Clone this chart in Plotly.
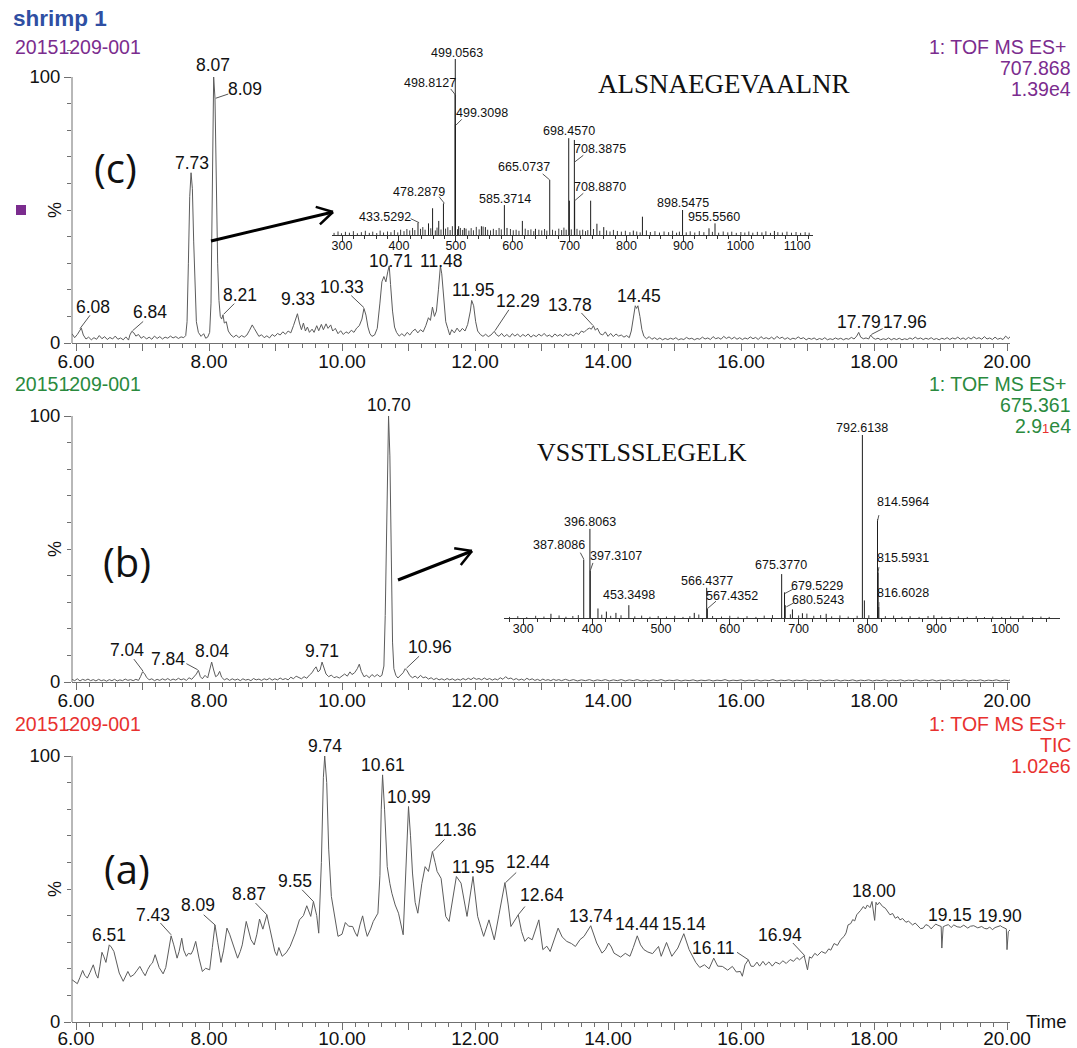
import plotly.graph_objects as go

W, H = 1077, 1048

# ======================= DATA =======================
sample_name = "shrimp 1"
sample_id = "20151209-001"
x_tick_values = list(range(6, 21))
x_tick_labels = [("%.2f" % v) if v % 2 == 0 else "" for v in x_tick_values]
ms_tick_values = [300, 400, 500, 600, 700, 800, 900, 1000, 1100]

c_header = ["1: TOF MS ES+", "707.868", "1.39e4"]
b_header = ["1: TOF MS ES+", "675.361", "2.9<span style='color:#e8312f;font-size:13px'>1</span>e4"]
a_header = ["1: TOF MS ES+", "TIC", "1.02e6"]
peptide_c = "ALSNAEGEVAALNR"
peptide_b = "VSSTLSSLEGELK"

# (c) extracted ion chromatogram 707.868  (time, %)
c_points = [
    (5.94, 3.5), (5.98, 2.0), (6.02, 3.2), (6.05, 4.5), (6.08, 5.6), (6.11, 3.0), (6.15, 1.5), (6.19, 2.2),
    (6.23, 1.2), (6.27, 2.0), (6.31, 1.4), (6.35, 2.8), (6.39, 1.6), (6.43, 2.4), (6.47, 1.3), (6.51, 2.1),
    (6.55, 1.5), (6.59, 2.6), (6.63, 1.4), (6.67, 1.9), (6.71, 1.2), (6.75, 2.3), (6.79, 1.1), (6.81, 3.0),
    (6.84, 4.4), (6.87, 3.8), (6.90, 2.6), (6.94, 3.2), (6.98, 1.8), (7.02, 2.5), (7.06, 1.5), (7.10, 2.2),
    (7.14, 1.4), (7.18, 2.6), (7.22, 1.7), (7.26, 2.4), (7.30, 1.5), (7.34, 2.2), (7.38, 1.8), (7.42, 2.6),
    (7.46, 1.9), (7.50, 2.4), (7.54, 1.7), (7.58, 2.3), (7.62, 2.0), (7.65, 2.8), (7.67, 8.0), (7.69, 30.0),
    (7.71, 55.0), (7.73, 64.0), (7.75, 58.0), (7.77, 38.0), (7.79, 18.0), (7.81, 8.0), (7.84, 4.0), (7.88, 2.5),
    (7.92, 3.5), (7.95, 1.8), (7.98, 2.2), (8.01, 4.0), (8.03, 15.0), (8.05, 70.0), (8.07, 100.0), (8.09, 92.0),
    (8.11, 60.0), (8.13, 30.0), (8.15, 16.0), (8.17, 10.0), (8.19, 9.0), (8.21, 10.6), (8.23, 7.5), (8.26, 8.0),
    (8.29, 4.5), (8.33, 3.0), (8.37, 2.2), (8.41, 3.0), (8.45, 2.0), (8.49, 2.8), (8.53, 2.2), (8.57, 3.0),
    (8.61, 4.8), (8.65, 6.8), (8.68, 5.5), (8.71, 4.0), (8.75, 2.5), (8.79, 3.1), (8.83, 2.0), (8.87, 2.7),
    (8.91, 1.9), (8.95, 3.2), (8.99, 2.5), (9.03, 3.6), (9.07, 3.0), (9.11, 4.2), (9.15, 3.3), (9.19, 4.5),
    (9.23, 3.8), (9.27, 6.5), (9.30, 9.0), (9.33, 11.0), (9.36, 7.5), (9.39, 5.0), (9.42, 7.5), (9.45, 4.5),
    (9.48, 6.0), (9.51, 4.0), (9.55, 5.2), (9.58, 4.0), (9.62, 6.5), (9.65, 4.6), (9.69, 7.0), (9.72, 5.0),
    (9.76, 7.2), (9.79, 5.5), (9.83, 6.8), (9.86, 4.5), (9.90, 5.5), (9.94, 3.5), (9.98, 4.6), (10.02, 3.2),
    (10.06, 4.2), (10.10, 3.6), (10.14, 4.8), (10.18, 4.0), (10.22, 5.6), (10.26, 6.5), (10.30, 9.0), (10.33, 13.0),
    (10.36, 10.5), (10.39, 6.0), (10.42, 3.5), (10.45, 2.5), (10.49, 3.0), (10.53, 5.5), (10.57, 15.0), (10.60, 23.0),
    (10.63, 25.0), (10.66, 23.0), (10.69, 27.0), (10.71, 29.0), (10.73, 22.0), (10.76, 12.0), (10.79, 6.0), (10.82, 4.0),
    (10.86, 2.6), (10.90, 3.5), (10.94, 2.6), (10.98, 4.0), (11.02, 3.0), (11.06, 4.4), (11.10, 5.2), (11.14, 3.8),
    (11.18, 5.0), (11.22, 4.2), (11.26, 6.5), (11.30, 9.5), (11.33, 8.5), (11.36, 13.5), (11.39, 10.0), (11.42, 12.0),
    (11.45, 20.0), (11.48, 29.0), (11.50, 26.0), (11.53, 15.0), (11.56, 8.0), (11.59, 5.5), (11.62, 3.0), (11.65, 5.0),
    (11.69, 3.8), (11.73, 5.6), (11.77, 4.2), (11.81, 5.5), (11.85, 4.5), (11.89, 7.0), (11.93, 12.0), (11.95, 16.0),
    (11.98, 14.0), (12.01, 8.0), (12.04, 4.5), (12.08, 3.2), (12.12, 2.5), (12.16, 3.3), (12.20, 2.4), (12.24, 3.0),
    (12.27, 3.8), (12.29, 4.4), (12.32, 3.2), (12.36, 2.5), (12.40, 3.6), (12.44, 2.4), (12.48, 3.2), (12.52, 2.2),
    (12.56, 3.5), (12.60, 2.6), (12.64, 3.4), (12.68, 2.3), (12.72, 3.2), (12.76, 2.5), (12.80, 3.4), (12.84, 2.2),
    (12.88, 3.0), (12.92, 2.4), (12.96, 3.3), (13.00, 2.6), (13.04, 3.6), (13.08, 2.5), (13.12, 3.0), (13.16, 2.2),
    (13.20, 3.4), (13.24, 2.6), (13.28, 3.2), (13.32, 2.4), (13.36, 3.5), (13.40, 2.8), (13.44, 3.3), (13.48, 2.6),
    (13.52, 3.8), (13.56, 3.2), (13.60, 4.5), (13.64, 4.0), (13.68, 5.0), (13.72, 5.6), (13.75, 5.2), (13.78, 6.5),
    (13.81, 4.8), (13.84, 5.6), (13.88, 3.5), (13.92, 3.0), (13.96, 4.2), (14.00, 2.5), (14.04, 3.6), (14.08, 2.4),
    (14.12, 3.4), (14.16, 2.6), (14.20, 3.0), (14.24, 2.2), (14.28, 2.8), (14.32, 2.0), (14.35, 4.5), (14.38, 9.0),
    (14.41, 14.0), (14.43, 13.0), (14.45, 14.0), (14.48, 10.0), (14.51, 5.0), (14.54, 2.5), (14.58, 1.6), (14.62, 2.4),
    (14.66, 1.4), (14.70, 2.0), (14.74, 1.3), (14.78, 1.9), (14.82, 1.2), (14.86, 1.7), (14.90, 1.3), (14.94, 1.8),
    (14.98, 1.4), (15.02, 2.0), (15.06, 1.2), (15.10, 1.6), (15.14, 1.3), (15.18, 2.1), (15.22, 1.5), (15.26, 1.8),
    (15.30, 1.2), (15.34, 1.7), (15.38, 1.4), (15.42, 2.2), (15.46, 1.5), (15.50, 1.9), (15.54, 1.3), (15.58, 2.4),
    (15.62, 1.6), (15.66, 2.0), (15.70, 1.4), (15.74, 2.5), (15.78, 1.7), (15.82, 2.3), (15.86, 1.5), (15.90, 2.2),
    (15.94, 1.4), (15.98, 2.0), (16.02, 1.3), (16.06, 1.9), (16.10, 1.5), (16.14, 2.3), (16.18, 1.6), (16.22, 2.1),
    (16.26, 1.3), (16.30, 2.4), (16.34, 1.6), (16.38, 2.0), (16.42, 1.5), (16.46, 2.2), (16.50, 1.4), (16.54, 2.5),
    (16.58, 1.7), (16.62, 2.2), (16.66, 1.4), (16.70, 2.0), (16.74, 1.3), (16.78, 1.8), (16.82, 1.5), (16.86, 2.3),
    (16.90, 1.6), (16.94, 2.0), (16.98, 1.2), (17.02, 1.8), (17.06, 1.4), (17.10, 1.9), (17.14, 1.2), (17.18, 1.7),
    (17.22, 1.3), (17.26, 2.0), (17.30, 1.2), (17.34, 1.6), (17.38, 1.3), (17.42, 1.9), (17.46, 1.4), (17.50, 1.8),
    (17.54, 1.2), (17.58, 1.7), (17.62, 1.4), (17.66, 2.1), (17.70, 1.5), (17.74, 2.6), (17.77, 4.0), (17.80, 2.2),
    (17.84, 1.6), (17.88, 1.9), (17.92, 1.5), (17.95, 3.0), (17.98, 2.0), (18.02, 1.4), (18.06, 1.8), (18.10, 1.2),
    (18.14, 1.6), (18.18, 1.3), (18.22, 1.9), (18.26, 1.2), (18.30, 1.7), (18.34, 1.3), (18.38, 1.8), (18.42, 1.2),
    (18.46, 1.6), (18.50, 1.3), (18.54, 1.9), (18.58, 1.4), (18.62, 2.2), (18.66, 1.5), (18.70, 1.9), (18.74, 1.3),
    (18.78, 1.8), (18.82, 1.4), (18.86, 2.0), (18.90, 1.3), (18.94, 1.7), (18.98, 1.2), (19.02, 1.8), (19.06, 1.4),
    (19.10, 2.0), (19.14, 1.3), (19.18, 1.9), (19.22, 1.5), (19.26, 2.2), (19.30, 1.4), (19.34, 1.9), (19.38, 1.3),
    (19.42, 2.1), (19.46, 1.5), (19.50, 2.3), (19.54, 1.6), (19.58, 2.0), (19.62, 1.4), (19.66, 2.4), (19.70, 1.5),
    (19.74, 1.9), (19.78, 1.3), (19.82, 2.2), (19.86, 1.4), (19.90, 1.8), (19.94, 1.3), (19.98, 2.6), (20.02, 1.6),
    (20.05, 2.5),
]

# (b) extracted ion chromatogram 675.361
b_points = [
    (5.94, 1.0), (5.98, 0.5), (6.02, 1.2), (6.06, 0.4), (6.10, 1.0), (6.14, 0.6), (6.18, 1.1), (6.22, 0.5),
    (6.26, 0.9), (6.30, 0.4), (6.34, 1.0), (6.38, 0.5), (6.42, 0.8), (6.46, 0.3), (6.50, 0.9), (6.54, 0.5),
    (6.58, 1.0), (6.62, 0.4), (6.66, 0.8), (6.70, 0.5), (6.74, 1.1), (6.78, 0.6), (6.82, 0.9), (6.86, 0.5),
    (6.90, 1.0), (6.94, 0.6), (6.97, 2.0), (7.00, 3.8), (7.03, 3.2), (7.06, 1.8), (7.10, 0.8), (7.14, 1.2),
    (7.18, 0.5), (7.22, 1.0), (7.26, 0.6), (7.30, 1.2), (7.34, 0.7), (7.38, 1.3), (7.42, 0.6), (7.46, 1.1),
    (7.50, 0.7), (7.54, 1.4), (7.58, 0.8), (7.62, 1.2), (7.66, 0.6), (7.70, 1.6), (7.74, 1.0), (7.78, 2.2),
    (7.81, 3.0), (7.84, 4.4), (7.87, 2.0), (7.90, 1.2), (7.94, 2.5), (7.98, 1.5), (8.01, 5.0), (8.04, 7.5),
    (8.07, 4.5), (8.10, 2.0), (8.13, 2.5), (8.16, 4.0), (8.19, 1.8), (8.23, 0.8), (8.27, 1.3), (8.31, 0.6),
    (8.35, 1.2), (8.39, 0.7), (8.43, 1.1), (8.47, 0.5), (8.51, 1.2), (8.55, 0.7), (8.59, 1.0), (8.63, 0.5),
    (8.67, 1.3), (8.71, 0.8), (8.75, 1.1), (8.79, 0.6), (8.83, 1.2), (8.87, 0.8), (8.91, 1.4), (8.95, 0.7),
    (8.99, 1.2), (9.03, 0.8), (9.07, 1.5), (9.11, 0.9), (9.15, 1.3), (9.19, 0.8), (9.23, 1.8), (9.27, 1.2),
    (9.31, 2.2), (9.35, 1.6), (9.39, 1.2), (9.43, 2.0), (9.47, 1.4), (9.51, 2.6), (9.55, 3.5), (9.58, 4.8),
    (9.61, 5.7), (9.64, 3.8), (9.67, 4.5), (9.70, 7.5), (9.73, 5.5), (9.76, 3.0), (9.80, 2.0), (9.84, 2.6),
    (9.88, 1.6), (9.92, 2.0), (9.96, 1.5), (10.00, 2.2), (10.04, 3.0), (10.08, 2.2), (10.12, 3.8), (10.15, 2.8),
    (10.19, 3.5), (10.23, 5.0), (10.26, 6.7), (10.29, 4.0), (10.33, 2.0), (10.37, 2.5), (10.41, 1.6), (10.45, 2.8),
    (10.49, 2.0), (10.53, 2.8), (10.57, 2.0), (10.60, 2.5), (10.63, 6.0), (10.65, 25.0), (10.67, 60.0), (10.69, 92.0),
    (10.70, 100.0), (10.72, 85.0), (10.74, 45.0), (10.76, 15.0), (10.78, 5.0), (10.81, 2.5), (10.84, 1.5), (10.88, 2.6),
    (10.92, 3.5), (10.95, 5.0), (10.98, 4.2), (11.02, 2.4), (11.06, 1.6), (11.10, 2.2), (11.14, 1.4), (11.18, 2.5),
    (11.22, 1.6), (11.26, 1.9), (11.30, 1.1), (11.34, 1.6), (11.38, 0.9), (11.42, 1.4), (11.46, 0.8), (11.50, 1.2),
    (11.54, 0.7), (11.58, 1.3), (11.62, 0.8), (11.66, 1.2), (11.70, 0.6), (11.74, 1.1), (11.78, 0.7), (11.82, 1.3),
    (11.86, 0.8), (11.90, 1.4), (11.94, 0.9), (11.98, 1.6), (12.02, 1.0), (12.06, 1.3), (12.10, 0.8), (12.14, 1.5),
    (12.18, 0.9), (12.22, 1.3), (12.26, 0.7), (12.30, 1.2), (12.34, 0.8), (12.38, 1.6), (12.42, 1.0), (12.46, 2.0),
    (12.50, 1.2), (12.54, 1.5), (12.58, 0.8), (12.62, 1.3), (12.66, 0.7), (12.70, 1.1), (12.74, 0.6), (12.78, 1.4),
    (12.82, 0.8), (12.86, 1.2), (12.90, 0.6), (12.94, 1.0), (12.98, 0.5), (13.02, 1.1), (13.06, 0.6), (13.10, 0.9),
    (13.14, 0.5), (13.18, 1.0), (13.22, 0.6), (13.26, 0.9), (13.30, 0.5), (13.36, 1.0), (13.42, 0.5), (13.48, 0.9),
    (13.54, 0.4), (13.60, 0.8), (13.66, 0.5), (13.72, 0.9), (13.78, 0.4), (13.84, 0.8), (13.90, 0.5), (13.96, 0.9),
    (14.02, 0.4), (14.08, 0.8), (14.14, 0.5), (14.20, 0.9), (14.26, 0.4), (14.32, 0.8), (14.38, 0.5), (14.44, 0.9),
    (14.50, 0.4), (14.56, 0.7), (14.62, 0.4), (14.68, 0.8), (14.74, 0.5), (14.80, 0.9), (14.86, 0.4), (14.92, 0.7),
    (14.98, 0.5), (15.04, 0.8), (15.10, 0.4), (15.16, 0.7), (15.22, 0.5), (15.28, 0.8), (15.34, 0.4), (15.40, 0.7),
    (15.46, 0.5), (15.52, 0.8), (15.58, 0.4), (15.64, 0.7), (15.70, 0.5), (15.76, 0.9), (15.82, 0.4), (15.88, 0.7),
    (15.94, 0.5), (16.00, 0.8), (16.06, 0.4), (16.12, 0.7), (16.18, 0.5), (16.24, 0.8), (16.30, 0.4), (16.36, 0.7),
    (16.42, 0.5), (16.48, 0.9), (16.54, 0.4), (16.60, 0.7), (16.66, 0.5), (16.72, 0.8), (16.78, 0.4), (16.84, 0.7),
    (16.90, 0.5), (16.96, 0.8), (17.02, 0.4), (17.08, 0.7), (17.14, 0.5), (17.20, 0.8), (17.26, 0.4), (17.32, 0.7),
    (17.38, 0.5), (17.44, 0.8), (17.50, 0.4), (17.56, 0.7), (17.62, 0.5), (17.68, 0.8), (17.74, 0.4), (17.80, 0.7),
    (17.86, 0.5), (17.92, 0.8), (17.98, 0.4), (18.04, 0.7), (18.10, 0.5), (18.16, 0.8), (18.22, 0.4), (18.28, 0.7),
    (18.34, 0.5), (18.40, 0.8), (18.46, 0.4), (18.52, 0.7), (18.58, 0.5), (18.64, 0.8), (18.70, 0.4), (18.76, 0.7),
    (18.82, 0.5), (18.88, 0.8), (18.94, 0.4), (19.00, 0.7), (19.06, 0.5), (19.12, 0.8), (19.18, 0.4), (19.24, 0.7),
    (19.30, 0.5), (19.36, 0.8), (19.42, 0.4), (19.48, 0.7), (19.54, 0.5), (19.60, 0.8), (19.66, 0.4), (19.72, 0.7),
    (19.78, 0.5), (19.84, 0.8), (19.90, 0.4), (19.96, 0.7), (20.02, 0.5), (20.05, 0.8),
]

# (a) total ion chromatogram
a_points = [
    (5.94, 15.9), (5.98, 15.0), (6.02, 14.4), (6.06, 16.8), (6.10, 19.4), (6.13, 17.6), (6.17, 16.5), (6.21, 18.6),
    (6.26, 21.5), (6.30, 18.0), (6.33, 16.5), (6.36, 21.0), (6.39, 26.2), (6.42, 24.5), (6.45, 22.4), (6.50, 29.0),
    (6.53, 28.2), (6.57, 26.5), (6.61, 22.0), (6.65, 18.4), (6.71, 15.3), (6.75, 17.2), (6.78, 19.0), (6.82, 17.0),
    (6.87, 17.8), (6.92, 19.5), (6.96, 20.9), (7.00, 19.0), (7.04, 17.4), (7.08, 19.8), (7.12, 21.5), (7.15, 22.2),
    (7.19, 25.3), (7.25, 20.5), (7.31, 18.1), (7.35, 20.5), (7.38, 24.7), (7.43, 32.4), (7.47, 29.0), (7.52, 24.0),
    (7.55, 26.5), (7.59, 31.5), (7.62, 27.0), (7.66, 24.7), (7.69, 25.8), (7.73, 25.5), (7.76, 27.0), (7.80, 30.3),
    (7.85, 24.0), (7.90, 19.0), (7.95, 20.2), (8.01, 19.6), (8.05, 28.0), (8.09, 36.5), (8.13, 30.0), (8.18, 22.4),
    (8.22, 27.0), (8.27, 35.3), (8.31, 33.0), (8.34, 30.9), (8.38, 28.0), (8.43, 24.0), (8.47, 26.5), (8.50, 29.0),
    (8.56, 37.8), (8.60, 33.5), (8.63, 31.0), (8.68, 29.0), (8.72, 33.0), (8.76, 38.7), (8.81, 34.9), (8.87, 40.3),
    (8.93, 33.0), (8.99, 26.5), (9.02, 25.0), (9.05, 28.0), (9.10, 24.7), (9.16, 26.0), (9.22, 28.4), (9.26, 31.0),
    (9.30, 33.5), (9.36, 38.4), (9.42, 40.0), (9.47, 43.7), (9.53, 39.7), (9.57, 45.3), (9.62, 40.0), (9.65, 33.4),
    (9.69, 60.0), (9.72, 92.0), (9.74, 100.0), (9.77, 90.0), (9.80, 65.0), (9.84, 47.2), (9.90, 38.0), (9.94, 32.2),
    (10.00, 33.0), (10.05, 37.4), (10.10, 36.0), (10.16, 35.9), (10.20, 33.5), (10.23, 32.2), (10.27, 36.5), (10.31, 39.9),
    (10.35, 35.0), (10.38, 32.2), (10.43, 35.0), (10.47, 37.8), (10.54, 40.9), (10.57, 55.0), (10.59, 80.0), (10.61, 92.9),
    (10.64, 80.0), (10.68, 58.4), (10.72, 52.0), (10.75, 48.4), (10.80, 44.0), (10.85, 40.9), (10.92, 32.8), (10.96, 55.0),
    (11.00, 81.0), (11.03, 70.0), (11.06, 56.0), (11.10, 45.0), (11.14, 40.9), (11.20, 52.0), (11.25, 58.4), (11.30, 56.6),
    (11.36, 64.1), (11.40, 60.0), (11.43, 56.6), (11.49, 54.0), (11.56, 39.7), (11.61, 37.8), (11.67, 48.0), (11.72, 54.7),
    (11.79, 52.2), (11.84, 45.0), (11.88, 39.7), (11.97, 54.7), (12.04, 39.7), (12.09, 35.5), (12.13, 32.2), (12.21, 38.4),
    (12.29, 30.9), (12.36, 40.3), (12.45, 52.4), (12.50, 44.0), (12.54, 35.9), (12.65, 40.3), (12.70, 34.0), (12.75, 30.3),
    (12.80, 31.8), (12.86, 30.9), (12.96, 38.4), (13.02, 27.2), (13.08, 28.5), (13.13, 26.5), (13.20, 31.5), (13.25, 35.3),
    (13.31, 32.0), (13.38, 30.3), (13.45, 29.5), (13.51, 28.4), (13.58, 31.0), (13.64, 32.2), (13.74, 36.2), (13.78, 33.0),
    (13.83, 29.7), (13.91, 25.9), (13.96, 27.2), (14.01, 29.7), (14.05, 28.2), (14.09, 25.9), (14.14, 25.0), (14.19, 24.4),
    (14.26, 25.8), (14.33, 24.7), (14.38, 28.0), (14.44, 32.4), (14.49, 29.0), (14.54, 27.2), (14.60, 26.3), (14.67, 25.7),
    (14.76, 28.4), (14.80, 24.7), (14.88, 29.9), (14.96, 24.7), (15.05, 27.8), (15.14, 33.2), (15.22, 27.2), (15.27, 24.5),
    (15.32, 22.4), (15.38, 20.5), (15.45, 21.5), (15.52, 20.0), (15.59, 24.0), (15.65, 21.0), (15.72, 20.9), (15.80, 19.5),
    (15.87, 20.9), (15.93, 18.8), (15.99, 19.0), (16.02, 17.2), (16.06, 21.5), (16.11, 23.4), (16.15, 21.0), (16.19, 20.9),
    (16.24, 22.5), (16.28, 21.0), (16.33, 22.8), (16.37, 21.4), (16.42, 22.6), (16.47, 21.0), (16.52, 22.5), (16.58, 21.8),
    (16.63, 23.0), (16.68, 22.0), (16.74, 23.5), (16.79, 22.8), (16.84, 24.2), (16.88, 23.4), (16.95, 24.9), (17.00, 19.6),
    (17.03, 24.5), (17.06, 24.0), (17.11, 25.8), (17.15, 25.0), (17.21, 26.5), (17.27, 25.8), (17.32, 27.5), (17.35, 27.0),
    (17.40, 29.5), (17.45, 28.8), (17.50, 31.0), (17.55, 32.2), (17.58, 33.5), (17.61, 36.5), (17.65, 37.0), (17.68, 38.5),
    (17.71, 38.0), (17.74, 40.3), (17.77, 41.0), (17.80, 42.0), (17.84, 43.4), (17.87, 42.5), (17.90, 44.0), (17.94, 43.0),
    (17.97, 45.3), (18.01, 38.2), (18.03, 45.0), (18.05, 44.0), (18.08, 45.0), (18.13, 43.4), (18.17, 42.8), (18.20, 41.5),
    (18.24, 40.3), (18.28, 40.8), (18.32, 39.0), (18.36, 39.6), (18.39, 38.4), (18.43, 38.9), (18.48, 37.5), (18.52, 37.9),
    (18.58, 36.5), (18.62, 37.2), (18.66, 36.0), (18.70, 35.1), (18.74, 35.3), (18.78, 36.6), (18.82, 36.2), (18.86, 35.0),
    (18.89, 35.9), (18.93, 36.8), (18.96, 36.4), (19.01, 35.9), (19.02, 27.8), (19.04, 35.8), (19.08, 36.3), (19.12, 36.6),
    (19.16, 35.5), (19.20, 36.5), (19.25, 35.8), (19.30, 35.6), (19.35, 36.4), (19.41, 35.3), (19.45, 36.0), (19.50, 36.2),
    (19.56, 35.4), (19.62, 35.9), (19.66, 35.2), (19.70, 35.0), (19.74, 35.7), (19.78, 34.7), (19.82, 35.5), (19.86, 35.8),
    (19.90, 36.2), (19.93, 35.7), (19.96, 35.2), (19.99, 35.0), (20.00, 27.2), (20.02, 34.0), (20.05, 34.7),
]

# peak labels (retention times)
c_peak_labels = ["6.08", "6.84", "7.73", "8.07", "8.09", "8.21", "9.33", "10.33", "10.71", "11.48",
                 "11.95", "12.29", "13.78", "14.45", "17.79", "17.96"]
b_peak_labels = ["7.04", "7.84", "8.04", "9.71", "10.70", "10.96"]
a_peak_labels = ["6.51", "7.43", "8.09", "8.87", "9.55", "9.74", "10.61", "10.99", "11.36", "11.95", "12.44",
                 "12.64", "13.74", "14.44", "15.14", "16.11", "16.94", "18.00", "19.15", "19.90"]

# inset mass spectrum for (c)
c_ms_mz = [433.5292, 452.0, 459.2, 470.0, 478.2879, 498.8127, 499.0563, 499.3098, 505.0, 515.0, 545.0, 552.0,
           585.3714, 590.0, 617.0, 640.0, 665.0737, 698.4570, 699.6, 708.3875, 708.8870, 737.0, 748.0, 760.0,
           812.0, 828.0, 898.5475, 945.0, 955.5560, 1060.0]
c_ms_int = [7.0, 6.6, 15.2, 8.0, 18.0, 80.0, 100.0, 62.6, 5.0, 4.0, 5.0, 4.5,
            17.0, 4.0, 8.0, 3.5, 31.3, 55.0, 19.5, 54.0, 19.5, 19.5, 6.4, 4.5,
            2.5, 10.4, 14.2, 3.8, 6.6, 2.3]
c_noise_mz = [286, 293, 299, 306, 313, 320, 327, 334, 341, 348, 354, 361, 367, 373, 380, 386, 392, 398, 403, 409,
              414, 419, 424, 428, 438, 442, 446, 456, 464, 467, 474, 482, 486, 490, 494, 503, 508, 512, 518, 523,
              527, 531, 536, 541, 548, 556, 561, 566, 571, 576, 580, 596, 601, 606, 611, 622, 627, 632, 637, 646,
              651, 656, 660, 670, 675, 681, 686, 690, 694, 703, 713, 718, 723, 728, 732, 742, 753, 765, 771, 777,
              784, 791, 798, 806, 818, 824, 835, 842, 850, 858, 866, 874, 881, 888, 893, 905, 912, 920, 928, 936,
              951, 962, 970, 978, 985, 993, 1001, 1008, 1015, 1022, 1030, 1038, 1045, 1053, 1066, 1074, 1082, 1090,
              1098, 1106, 1114, 1121]
c_noise_int = [1.2, 2.0, 1.0, 1.8, 1.3, 2.2, 1.0, 1.6, 2.4, 1.2, 1.9, 1.1, 2.5, 1.4, 2.0, 1.6, 2.8, 1.5, 3.0, 2.2,
               3.4, 2.6, 4.0, 2.8, 3.5, 4.5, 3.0, 3.8, 2.6, 4.2, 3.1, 3.6, 4.4, 2.8, 5.0, 3.3, 4.0, 2.9, 3.6, 2.5,
               3.9, 2.7, 4.6, 3.2, 4.8, 3.0, 2.6, 3.5, 2.8, 4.0, 3.2, 3.4, 2.7, 3.0, 2.4, 3.6, 2.8, 3.2, 2.2, 3.0,
               2.6, 3.4, 2.5, 3.0, 2.4, 3.6, 2.8, 4.2, 3.0, 3.2, 3.5, 2.6, 3.0, 2.2, 2.8, 3.4, 2.4, 2.6, 2.0, 2.9,
               2.3, 1.9, 2.4, 1.6, 2.0, 1.5, 2.6, 1.7, 2.2, 1.4, 2.0, 1.6, 2.4, 1.3, 1.9, 1.5, 2.1, 1.4, 2.2, 1.6,
               1.8, 1.3, 2.0, 1.5, 1.9, 1.2, 1.7, 1.4, 2.0, 1.3, 1.8, 1.5, 2.1, 1.2, 1.6, 1.4, 1.9, 1.3,
               1.7, 1.2, 1.6, 1.3]
c_ms_labels = ["433.5292", "478.2879", "498.8127", "499.0563", "499.3098", "585.3714", "665.0737",
               "698.4570", "708.3875", "708.8870", "898.5475", "955.5560"]

# inset mass spectrum for (b)
b_ms_mz = [340.2, 387.8086, 396.8063, 397.3107, 408.5, 420.7, 434.6, 453.3498, 548.4, 566.4377, 567.4352,
           675.3770, 679.5229, 680.5243, 691.0, 705.5, 740.0, 792.6138, 795.5, 814.5964, 815.5931, 816.6028,
           896.5, 1025.9]
b_ms_int = [2.3, 32.0, 48.7, 26.0, 5.2, 3.5, 2.8, 7.0, 2.8, 16.5, 5.2,
            24.0, 14.0, 7.0, 4.7, 2.6, 2.3, 100.0, 9.6, 54.0, 25.0, 6.0,
            1.5, 1.2]
b_noise_mz = [280, 292, 305, 318, 330, 352, 362, 372, 380, 414, 427, 442, 462, 472, 484, 496, 508, 520, 532, 542,
              555, 575, 588, 600, 612, 625, 638, 650, 662, 688, 700, 712, 722, 732, 748, 760, 772, 785, 802, 826,
              838, 850, 862, 875, 888, 908, 920, 932, 945, 958, 970, 982, 995, 1008, 1040, 1052, 1064]
b_noise_int = [0.6, 1.0, 0.5, 1.2, 0.8, 1.4, 0.7, 1.1, 1.6, 1.8, 1.2, 1.5, 0.9, 1.3, 0.7, 1.1, 0.8, 1.2, 0.6, 1.0,
               1.9, 1.1, 0.8, 1.2, 0.7, 1.0, 0.6, 1.3, 1.6, 2.0, 1.4, 2.4, 1.2, 1.6, 0.9, 1.4, 0.8, 1.2, 1.5, 1.0,
               1.3, 0.7, 1.0, 0.6, 1.1, 0.8, 0.5, 0.9, 0.6, 1.0, 0.5, 0.8, 0.6, 0.9, 0.5, 0.8, 0.6]
b_ms_labels = ["387.8086", "396.8063", "397.3107", "453.3498", "566.4377", "567.4352", "675.3770",
               "679.5229", "680.5243", "792.6138", "814.5964", "815.5931", "816.6028"]

# ======================= LAYOUT / STYLE =======================
FONT = "Liberation Sans, Arial, sans-serif"
PURPLE, GREEN, RED, BLUE = "#7b2c8e", "#2a8a3e", "#e8312f", "#2f4fa3"
AXCOL = "#707070"
TRACECOL = "#5c5c5c"
PX_PER_MIN = 66.5


def fx(px):
    return px / W


def fy(py):
    return 1 - py / H


# label placement (center x, center y, optional leader line) in data units of each panel
C_LAB_POS = [(6.26, 13.4, ((6.21, 10.4), (6.06, 5.4))), (7.12, 11.5, ((7.01, 8.1), (6.85, 4.6))),
             (7.74, 67.8, None), (8.06, 104.6, None), (8.54, 95.5, ((8.29, 93.6), (8.10, 92.0))),
             (8.47, 18.1, ((8.38, 14.8), (8.22, 10.8))), (9.34, 16.5, None),
             (10.0, 21.0, ((10.14, 17.8), (10.33, 13.3))), (10.73, 30.9, None), (11.50, 30.9, None),
             (11.97, 20.0, None), (12.65, 15.6, ((12.51, 12.5), (12.30, 4.6))),
             (13.43, 14.4, ((13.60, 11.3), (13.77, 6.7))), (14.46, 17.8, None), (17.77, 8.0, None),
             (18.47, 8.0, ((18.13, 5.4), (17.96, 3.2)))]
B_LAB_POS = [(6.76, 12.0, ((6.87, 8.6), (7.01, 4.0))), (7.39, 8.8, ((7.66, 6.9), (7.83, 4.6))),
             (8.04, 11.5, None), (9.70, 11.5, None), (10.71, 104.2, None),
             (11.32, 13.2, ((11.16, 9.7), (10.97, 5.2)))]
A_LAB_POS = [(6.49, 32.8, None), (7.16, 40.3, ((7.27, 37.2), (7.43, 32.8))),
             (7.83, 44.1, ((7.92, 40.3), (8.09, 36.5))), (8.60, 48.2, ((8.70, 44.7), (8.87, 40.3))),
             (9.30, 53.1, ((9.40, 49.7), (9.57, 45.3))), (9.74, 103.6, None), (10.61, 96.8, None),
             (11.01, 84.6, None), (11.71, 72.2, ((11.54, 68.6), (11.37, 64.1))), (11.97, 58.4, None),
             (12.80, 60.0, ((12.62, 56.2), (12.46, 52.4))), (13.00, 47.8, ((12.75, 43.4), (12.65, 40.3))),
             (13.75, 39.9, None), (14.44, 36.7, None), (15.14, 37.0, None),
             (15.59, 28.0, ((15.94, 26.2), (16.11, 23.4))), (16.59, 32.8, ((16.78, 29.7), (16.96, 24.9))),
             (18.00, 49.2, None), (19.14, 40.3, None), (19.90, 39.9, None)]
CMS_LAB_POS = [(375.6, 10.0, ((420.7, 9.3), (435.5, 7.0))), (435.9, 24.6, ((470.5, 21.8), (480.0, 18.0))),
               (454.7, 86.5, ((491.0, 83.0), (499.5, 79.5))), (501.5, 103.5, None),
               (545.5, 69.5, ((510.4, 65.7), (500.5, 62.5))), (587.0, 20.6, None),
               (619.9, 38.4, ((652.7, 34.7), (665.0, 31.3))), (699.5, 59.0, None),
               (753.4, 48.9, ((724.1, 45.3), (709.0, 41.5))), (753.4, 27.1, ((724.1, 23.7), (709.0, 19.5))),
               (898.8, 18.4, None), (954.4, 10.4, None)]
BMS_LAB_POS = [(351.3, 40.0, ((382.9, 35.7), (387.8, 32.2))), (397.4, 52.6, None),
               (434.6, 33.9, ((401.2, 30.1), (397.5, 26.1))), (452.9, 12.4, None), (566.2, 20.4, None),
               (603.9, 12.2, ((580.0, 9.2), (567.8, 5.2))), (675.0, 29.0, None),
               (726.1, 17.4, ((691.6, 15.7), (680.0, 13.4))), (728.8, 9.6, ((692.7, 8.2), (682.2, 6.1))),
               (792.7, 104.0, None), (851.0, 63.5, ((816.6, 56.2), (814.6, 53.0))),
               (851.0, 33.0, ((816.6, 27.8), (815.6, 25.2))), (851.0, 13.6, ((816.6, 8.7), (816.6, 6.1)))]

# panel geometry in pixels: (y of 0 %, y of 100 %, tick-label standoff)
PANELS = {"c": (343, 77, -6), "b": (682, 416, -6), "a": (1022, 756, -8)}
Y_TOP = 112.0
X_RANGE = [6 - 4 / PX_PER_MIN, 20 + 3 / PX_PER_MIN]

fig = go.Figure()
annotations = []
shapes = []


def add_chrom(points, xa, ya):
    fig.add_trace(go.Scatter(x=[p[0] for p in points], y=[p[1] for p in points], mode="lines",
                             line=dict(color=TRACECOL, width=1), xaxis=xa, yaxis=ya, hoverinfo="skip"))


def add_sticks(mz, inten, xa, ya, color="#1e1e1e"):
    xs, ys = [], []
    for m, v in zip(mz, inten):
        xs += [m, m, None]
        ys += [0, v, None]
    fig.add_trace(go.Scatter(x=xs, y=ys, mode="lines", line=dict(color=color, width=1),
                             xaxis=xa, yaxis=ya, hoverinfo="skip"))


def add_labels(texts, positions, xa, ya, size):
    for t, (lx, ly, lead) in zip(texts, positions):
        annotations.append(dict(x=lx, y=ly, xref=xa, yref=ya, text=t, showarrow=False,
                                font=dict(family=FONT, size=size, color="#111111"),
                                xanchor="center", yanchor="middle"))
        if lead is not None:
            (x0, y0), (x1, y1) = lead
            shapes.append(dict(type="line", xref=xa, yref=ya, x0=x0, y0=y0, x1=x1, y1=y1,
                               line=dict(color="#555555", width=1)))


add_chrom(c_points, "x", "y")
add_chrom(b_points, "x2", "y2")
add_chrom(a_points, "x3", "y3")
add_sticks(c_noise_mz, c_noise_int, "x4", "y4", "#3a3a3a")
add_sticks(c_ms_mz, c_ms_int, "x4", "y4")
add_sticks(b_noise_mz, b_noise_int, "x5", "y5", "#3a3a3a")
add_sticks(b_ms_mz, b_ms_int, "x5", "y5")

add_labels(c_peak_labels, C_LAB_POS, "x", "y", 17.5)
add_labels(b_peak_labels, B_LAB_POS, "x2", "y2", 17.5)
add_labels(a_peak_labels, A_LAB_POS, "x3", "y3", 17.5)
add_labels(c_ms_labels, CMS_LAB_POS, "x4", "y4", 12.5)
add_labels(b_ms_labels, BMS_LAB_POS, "x5", "y5", 12.5)

layout_axes = {}
for i, key in enumerate(["c", "b", "a"]):
    y0, y100, standoff = PANELS[key]
    top_px = y0 - (y0 - y100) * Y_TOP / 100
    sfx = "" if i == 0 else str(i + 1)
    layout_axes["xaxis" + sfx] = dict(
        domain=[fx(72), fx(1010)], range=X_RANGE, anchor="y" + sfx, automargin=False,
        showline=True, linecolor=AXCOL, linewidth=1, ticks="outside", ticklen=7, tickwidth=1,
        tickcolor=AXCOL, tickmode="array", tickvals=x_tick_values, ticktext=x_tick_labels,
        ticklabelstandoff=standoff,
        tickfont=dict(family=FONT, size=19, color="#111111"), showgrid=False, zeroline=False,
        minor=dict(tickmode="linear", tick0=6, dtick=0.2, ticklen=4, ticks="outside",
                   tickcolor=AXCOL, showgrid=False))
    layout_axes["yaxis" + sfx] = dict(
        domain=[fy(y0), fy(top_px)], range=[0, Y_TOP], anchor="x" + sfx, automargin=False,
        showline=False, ticks="outside", ticklen=7, tickwidth=1,
        tickcolor=AXCOL, tickmode="array", tickvals=[0, 100], ticktext=["0", "100"],
        tickfont=dict(family=FONT, size=18.5, color="#111111"), showgrid=False, zeroline=False,
        minor=dict(tickmode="linear", tick0=0, dtick=10, ticklen=4, ticks="outside",
                   tickcolor=AXCOL, showgrid=False))
    # y-axis line from 0 to 100 %
    shapes.append(dict(type="line", xref="x%s domain" % sfx, yref="y" + sfx, x0=0, x1=0, y0=0, y1=100,
                       line=dict(color=AXCOL, width=1)))
    # "%" axis label at 50 %
    annotations.append(dict(x=fx(55), y=fy(y0 - (y0 - y100) * 0.5), xref="paper", yref="paper",
                            text="%", textangle=-90, showarrow=False,
                            font=dict(family=FONT, size=18, color="#111111"),
                            xanchor="center", yanchor="middle"))

# inset axes (mass spectra)
INSETS = {
    "4": dict(xpx=(332, 813), base=235, top=59, range=[282.4, 1127.8]),
    "5": dict(xpx=(504, 1060), base=618, top=435, range=[272.0, 1079.7]),
}
for n, g in INSETS.items():
    top_px = g["base"] - (g["base"] - g["top"]) * Y_TOP / 100
    layout_axes["xaxis" + n] = dict(
        domain=[fx(g["xpx"][0]), fx(g["xpx"][1])], range=g["range"], anchor="y" + n, automargin=False,
        showline=True, linecolor="#333333", linewidth=1, ticks="outside", ticklen=5, tickwidth=1,
        tickcolor="#333333", tickmode="array", tickvals=ms_tick_values,
        ticktext=[str(v) for v in ms_tick_values], ticklabelstandoff=-6,
        tickfont=dict(family=FONT, size=12.5, color="#111111"), showgrid=False, zeroline=False,
        minor=dict(tickmode="linear", tick0=300, dtick=20, ticklen=3, ticks="outside",
                   tickcolor="#333333", showgrid=False))
    layout_axes["yaxis" + n] = dict(domain=[fy(g["base"]), fy(top_px)], range=[0, Y_TOP],
                                    anchor="x" + n, visible=False, automargin=False)


def txt(text, xpx, ypx, color, size, anchor="left", family=FONT, bold=False):
    annotations.append(dict(x=fx(xpx), y=fy(ypx), xref="paper", yref="paper",
                            text=("<b>%s</b>" % text) if bold else text, showarrow=False,
                            font=dict(family=family, size=size, color=color),
                            xanchor=anchor, yanchor="middle"))


# header texts
txt(sample_name, 11, 18, BLUE, 22.5, bold=True)
for (hdr, col, dy) in [(c_header, PURPLE, 0), (b_header, GREEN, 337), (a_header, RED, 677)]:
    txt(sample_id, 13, 47 + dy, col, 19.5)
    txt(hdr[0], 1068, 47 + dy, col, 19.5, anchor="right")
    txt(hdr[1], 1073, 68 + dy, col, 19.5, anchor="right")
    txt(hdr[2], 1073, 89 + dy, col, 19.5, anchor="right")

# panel letters
txt("(c)", 115, 168, "#111111", 40, anchor="center", family="Open Sans, sans-serif")
txt("(b)", 127, 561, "#111111", 40, anchor="center", family="Open Sans, sans-serif")
txt("(a)", 127, 868, "#111111", 40, anchor="center", family="Open Sans, sans-serif")

# peptide sequences
txt(peptide_c, 596, 84, "#111111", 27, family="Liberation Serif, Times New Roman, serif")
txt(peptide_b, 535, 453, "#111111", 26, family="Liberation Serif, Times New Roman, serif")

# axis title
txt("Time", 1024, 1021, "#111111", 18.5)

# purple marker square
shapes.append(dict(type="rect", xref="paper", yref="paper", x0=fx(16), x1=fx(26), y0=fy(215), y1=fy(205),
                   fillcolor=PURPLE, line=dict(width=0)))

# arrows (shaft + open head)
for (sx, sy), (tx, ty) in [((211, 241), (333, 212)), ((398, 580), (472, 551))]:
    dx, dy = tx - sx, ty - sy
    L = (dx * dx + dy * dy) ** 0.5
    ux, uy = -dx / L, -dy / L
    shapes.append(dict(type="line", xref="paper", yref="paper", x0=fx(sx), y0=fy(sy), x1=fx(tx), y1=fy(ty),
                       line=dict(color="#000000", width=3)))
    for c, s in [(0.866, 0.5), (0.866, -0.5)]:
        ax = tx + 18 * (ux * c - uy * s)
        ay = ty + 18 * (ux * s + uy * c)
        shapes.append(dict(type="line", xref="paper", yref="paper", x0=fx(tx), y0=fy(ty), x1=fx(ax), y1=fy(ay),
                           line=dict(color="#000000", width=2.5)))

fig.update_layout(
    width=W, height=H, margin=dict(l=0, r=0, t=0, b=0, pad=0), autosize=False,
    paper_bgcolor="white", plot_bgcolor="white", showlegend=False,
    annotations=annotations, shapes=shapes, **layout_axes)

fig.write_html("out.html", post_script="document.body.style.margin='0px';",
               config={"displayModeBar": False})
